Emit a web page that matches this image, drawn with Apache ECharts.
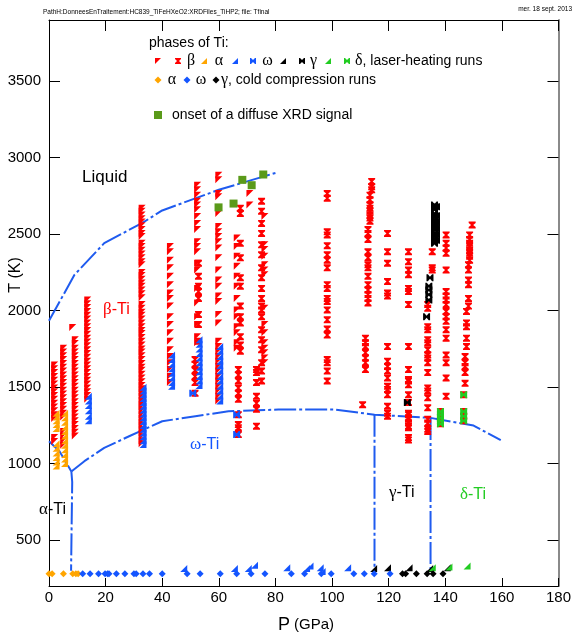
<!DOCTYPE html>
<html>
<head>
<meta charset="utf-8">
<script src="https://cdn.jsdelivr.net/npm/echarts@6/dist/echarts.min.js"></script>
<style>
  html, body { margin: 0; padding: 0; background: #fff; }
  #chart { width: 574px; height: 637px; }
</style>
</head>
<body>
<div id="chart"></div>
<script>
// ---- data (P in GPa, T in K), laser-heating columns as [P, [T...]] ----
var betaFlagCols = [
  [2.0, [1645,1620,1595,1570,1545,1520,1495,1470,1445,1420,1395,1370,1345,1320,1295,1170,1145]],
  [5.2, [1755,1730,1705,1680,1655,1630,1605,1580,1555,1530,1505,1480,1455,1430,1405,1380,1355,1330,1305,1210,1180,1150,1120]],
  [8.4, [1890]],
  [9.3, [1810,1785,1755,1730,1705,1680,1655,1630,1605,1580,1555,1530,1505,1480,1455,1430,1405,1380,1355,1330,1305,1280,1255,1230,1205,1180]],
  [13.7, [2070,2045,2020,1995,1970,1945,1920,1895,1870,1845,1820,1795,1770,1745,1720,1695,1670,1645,1620,1595,1570,1545,1520,1495,1470,1445,1420]],
  [32.9, [2670,2650,2625,2600,2580,2555,2530,2505,2485,2440,2420,2395,2370,2345,2320,2300,2250,2230,2205,2180,2160,2135,2110,2085,
          2040,2015,1990,1970,1945,1920,1895,1870,1850,1825,1800,1775,1750,1730,1705,1680,1655,1630,1610,1585,1560,1535,1510,
          1490,1465,1440,1415,1390,1370,1345,1320,1295,1270,1250,1225,1200,1175,1150,1130]],
  [42.9, [2420,2385,2330,2280,2225,2170,2115,2080,2030,1960,1910,1855,1800,1745,1700,1660,1615,1570,1530]],
  [52.5, [2820,2790,2755,2715,2690,2660,2615,2570,2530,2450,2420,2385,2310,2265,2145,2050,1960,1910,1830,1790]],
  [60.0, [2885,2855,2765,2745,2635,2550,2515,2485,2450,2410,2345,2265,2200,2160,2095,2060,1975,1920,1800,1765,1735,1700,
          1670,1635,1605,1570,1540,1505,1475,1440,1410]],
  [66.5, [2475,2420,2355,2290,2225,2160,2080,2005,1960,1895,1855,1790,1755]],
  [71.0, [2765,2690]],
  [76.3, [2615,2430,2400,2355,2300,2265,2235,2015,1910,1855,1790,1755,1725,1690,1660]]
];
var betaHourCols = [
  [52.8, [2310,2225,2160,2125,2080,1975,1910,1800]],
  [51.6, [1680,1650,1610,1570,1530,1460]],
  [67.6, [2670,2635,2440,2345,2215,2160,2030,1960,1920,1830,1775,1735]],
  [66.9, [1615,1580,1540,1495,1460,1420,1320,1255,1235,1190]],
  [75.1, [2715,2650,2570,2505,2430,2365,2280,2215,2145,2080,2030,2005,1960,1875,1810,1745,1660,1605,1540]],
  [73.3, [1615,1595,1530,1440,1395,1355,1245]],
  [98.3, [2765,2735,2515,2495,2425,2365,2330,2280,2170,2145,2080,2060,2005,1940,1880,1840,1680,1660,1605,1540]],
  [114.0, [2845,2810,2790]],
  [113.4, [2755,2725,2690,2670,2650,2625,2605,2585]],
  [112.7, [2530,2505,2465,2385,2345,2300,2280,2225,2170,2135,2105,2080,2050]],
  [111.8, [1820,1790,1765,1725,1690,1660,1615]],
  [110.8, [1385]],
  [119.6, [2505,2385,2310,2190,2115,2095,1765,1670,1635,1605,1560,1505,1485,1450,1375,1330,1310]],
  [127.0, [2385,2320,2265,2235,2145,2125,2040,1765,1615,1550,1540,1515,1450,1400,1330,1320,1300,1290,1265,1245,1235,1170,1155]],
  [135.4, [2385,2280,2265]],
  [133.8, [2040,2015,1895,1875,1810,1790,1745,1710,1690,1660,1595,1495,1475,1430,1365,1290,1265,1225,1210]],
  [140.3, [2495,2440,2410,2375,2265,2125,2095,2070,2040,1995,1960,1930,1875,1820,1710,1660,1560,1440]],
  [138.3, [1340,1320,1300,1280,1260]],
  [149.5, [2560]],
  [148.6, [2495,2465,2440,2420,2395,2375,2355,2330]],
  [148.2, [2300,2265,2200,2170,2080,2030]],
  [147.5, [1995,1920,1895,1820,1765]],
  [147.0, [1700,1660,1635,1595,1525]],
  [146.5, [1450,1340,1310,1280]]
];
var alphaTriCols = [
  [2.5, [1330,1305,1280,1255,1230,1130,1100,1070,1040,1010,985]],
  [5.5, [1330,1300,1270,1240,1210,1180,1150,1120,1090,1060,1030,1000]]
];
var omegaTriCols = [
  [13.9, [1440,1410,1380,1345,1310,1280]],
  [33.2, [1500,1475,1450,1425,1400,1375,1350,1325,1300,1275,1250,1225,1200,1175,1150,1125]],
  [43.3, [1710,1680,1650,1620,1590,1560,1530,1505]],
  [53.0, [1810,1780,1750,1720,1690,1660,1630,1600,1570,1540,1510]],
  [60.3, [1765,1735,1700,1670,1640,1605,1570,1540,1505,1475,1440,1410]]
];
var omegaTriLow = [[47.6,315],[65.5,315],[70.4,315],[72.6,335],[84,320],[91,315],[92.2,330],[95.8,320],[96.5,295],[105.5,320]];
var omegaBow = [[50.8,1460],[66.3,1320],[66.3,1190]];
var gammaBowCols = [
  [136.2, [2690,2660,2635,2615,2595,2570,2550,2530,2505,2485,2465,2440]],
  [136.9, [2680,2620,2580,2540,2500,2460]],
  [134.6, [2215]],
  [134.2, [2160,2135,2105,2070]],
  [133.4, [1960]],
  [126.6, [1400]]
];
var gammaTriLow = [[114.7,315],[119.6,320],[127.2,320],[134.5,315],[140.7,320]];
var deltaTriLow = [[135.4,320],[141.3,325],[147.7,330]];
var deltaBowCols = [
  [138.3, [1340,1320,1300,1280,1260]],
  [146.5, [1450,1340,1310,1280]]
];
var coldT = 280;
var alphaColdP = [0, 1.1, 5.1, 8.4, 9.5, 10.3];
var omegaColdP = [11.9,14.5,17.5,19.8,20.7,21.2,23.8,26.8,30,30.8,33.2,35.5,40,48.8,53.4,60.5,66.3,71.4,76.3,
                  85.6,90.3,96.2,99.7,107.7,111.4,114.9,120.5];
var gammaColdP = [124.9,126,129.8,133.6,135.7,139.2];
var diffuse = [[59.9,2675],[65.2,2700],[68.3,2855],[71.6,2820],[75.7,2890]];

// phase boundaries
var meltLine = [[0,1934],[9,2234],[19.5,2441],[33,2574],[40,2655],[60,2790],[80,2900]];
var alphaBetaLine = [[0,1146],[3.7,1081],[7.9,949]];
var alphaOmegaLine = [[7.9,949],[8.2,880],[8.0,600],[7.8,300]];
var omegaBetaLine = [[7.9,949],[12.5,1016],[19.5,1103],[28.3,1179],[40,1277],[51.7,1310],[63.4,1342],[81,1353],
                     [100.9,1353],[115,1320],[134.8,1299],[150,1249],[159.6,1153]];
var omegaGammaLine = [[115,1320],[115,300]];
var gammaDeltaLine = [[134.8,1299],[134.8,300]];

var yTicks = [500,1000,1500,2000,2500,3000,3500];

// ---- helpers ----
function expand(cols) {
  var out = [];
  cols.forEach(function (c) { c[1].forEach(function (t) { out.push([c[0], t]); }); });
  return out;
}
function atT(ps, t) { return ps.map(function (p) { return [p, t]; }); }

var RED = '#ff0000', BLUE = '#1455ff', ORANGE = '#ffa500', BLACK = '#000000', GREEN = '#22cc22', OLIVE = '#5a9a1a';
var LINEBLUE = '#1f5bef';
var SYM = {
  flag: 'path://M0,0L10,0L0,10Z',
  corner: 'path://M10,0L10,10L0,10Z',
  hour: 'path://M0,0L10,0L10,2L6.5,5L10,8L10,10L0,10L0,8L3.5,5L0,2Z',
  bow: 'path://M0,0L2,0L5,3.5L8,0L10,0L10,10L8,10L5,6.5L2,10L0,10Z'
};
var SANS = 'Liberation Sans, Arial, sans-serif';
var SERIF = 'Liberation Serif, Times New Roman, serif';

function bound(data) {
  return { type: 'line', data: data, showSymbol: false, symbol: 'none', z: 1, silent: true,
    lineStyle: { color: LINEBLUE, width: 2, type: [22, 3, 3, 3] } };
}
function pts(data, sym, size, color) {
  return { type: 'scatter', data: data, symbol: sym, symbolSize: size, z: 3, silent: true,
    itemStyle: { color: color, opacity: 1 } };
}

// legend swatches
function poly(points, color) { return { type: 'polygon', shape: { points: points }, style: { fill: color } }; }
function flagAt(x, y, c) { return poly([[x-3,y-3],[x+3,y-3],[x-3,y+3]], c); }
function cornerAt(x, y, c) { return poly([[x+3,y-3],[x+3,y+3],[x-3,y+3]], c); }
function hourAt(x, y, c) { return poly([[x-3,y-3],[x+3,y-3],[x+3,y-2],[x+1,y],[x+3,y+2],[x+3,y+3],[x-3,y+3],[x-3,y+2],[x-1,y],[x-3,y-2]], c); }
function bowAt(x, y, c) { return poly([[x-3,y-3],[x-2,y-3],[x,y-1],[x+2,y-3],[x+3,y-3],[x+3,y+3],[x+2,y+3],[x,y+1],[x-2,y+3],[x-3,y+3]], c); }
function diaAt(x, y, c) { return poly([[x,y-3.5],[x+3.5,y],[x,y+3.5],[x-3.5,y]], c); }
function txt(x, y, text, font, fill, align) {
  return { type: 'text', x: x, y: y, style: { text: text, font: font, fill: fill || '#000',
    textAlign: align || 'left', textVerticalAlign: 'middle' } };
}
function rtxt(x, y, text, rich, fill, align) {
  return { type: 'text', x: x, y: y, style: { text: text, rich: rich, fill: fill || '#000',
    textAlign: align || 'left', textVerticalAlign: 'middle' } };
}
function greekRich(c) {
  return { g: { font: '17px ' + SERIF, fill: c }, s: { font: '16px ' + SANS, fill: c } };
}

var r1 = 61, r2 = 80;
var graphics = [].concat(
  txt(43, 12, 'PathH:DonneesEnTraitement:HC839_TiFeHXeO2:XRDFiles_TiHP2; file: Tfinal', '6.5px ' + SANS),
  txt(572, 9, 'mer. 18 sept. 2013', '6.5px ' + SANS, '#000', 'right'),
  txt(149, 43, 'phases of Ti:', '14px ' + SANS),
  flagAt(158, r1, RED), hourAt(178, r1, RED), txt(191, r1, 'β', '16px ' + SERIF, '#000', 'center'),
  cornerAt(204, r1, ORANGE), txt(219, r1, 'α', '16px ' + SERIF, '#000', 'center'),
  cornerAt(235, r1, BLUE), bowAt(253, r1, BLUE), txt(267.5, r1, 'ω', '16px ' + SERIF, '#000', 'center'),
  cornerAt(283, r1, BLACK), bowAt(302, r1, BLACK), txt(313.5, r1, 'γ', '16px ' + SERIF, '#000', 'center'),
  cornerAt(328, r1, GREEN), bowAt(347, r1, GREEN),
  rtxt(355, r1, '{g|δ}{s|, laser-heating runs}', { g: { font: '16px ' + SERIF }, s: { font: '14px ' + SANS } }),
  diaAt(158, r2, ORANGE), txt(172, r2, 'α', '16px ' + SERIF, '#000', 'center'),
  diaAt(187, r2, BLUE), txt(201, r2, 'ω', '16px ' + SERIF, '#000', 'center'),
  diaAt(216, r2, BLACK),
  rtxt(221, r2, '{g|γ}{s|, cold compression runs}', { g: { font: '16px ' + SERIF }, s: { font: '14px ' + SANS } }),
  { type: 'rect', shape: { x: 154, y: 111, width: 8, height: 8 }, style: { fill: OLIVE } },
  txt(172, 115, 'onset of a diffuse XRD signal', '14px ' + SANS),
  txt(82, 177, 'Liquid', '17px ' + SANS),
  rtxt(103, 310, '{g|β}{s|-Ti}', greekRich(RED)),
  rtxt(190, 445, '{g|ω}{s|-Ti}', greekRich(BLUE)),
  rtxt(39, 510, '{g|α}{s|-Ti}', greekRich('#000')),
  rtxt(389, 493, '{g|γ}{s|-Ti}', greekRich('#000')),
  rtxt(460, 495, '{g|δ}{s|-Ti}', greekRich(GREEN)),
  rtxt(306, 625, '{a|P}{b| (GPa)}', { a: { font: '18px ' + SANS }, b: { font: '15px ' + SANS } }, '#000', 'center'),
  { type: 'text', x: 16, y: 275, rotation: Math.PI / 2,
    style: { text: 'T (K)', font: '16px ' + SANS, fill: '#000', textAlign: 'center', textVerticalAlign: 'middle' } }
);

function plain(v) { return String(v); }

var chart = echarts.init(document.getElementById('chart'), null, { renderer: 'canvas' });
chart.setOption({
  animation: false,
  backgroundColor: '#fff',
  grid: { left: 49, right: 12, top: 20, bottom: 51, containLabel: false },
  xAxis: [
    { type: 'value', min: 0, max: 180, interval: 20, position: 'bottom',
      axisLine: { onZero: false, lineStyle: { color: '#000', width: 1 } },
      axisTick: { inside: true, length: 8, lineStyle: { color: '#000' } },
      axisLabel: { color: '#000', fontSize: 15, fontFamily: SANS, margin: 4, formatter: plain },
      splitLine: { show: false } },
    { type: 'value', min: 0, max: 180, interval: 20, position: 'top',
      axisLine: { onZero: false, lineStyle: { color: '#000', width: 1 } },
      axisTick: { inside: true, length: 11, lineStyle: { color: '#000' } },
      axisLabel: { show: false }, splitLine: { show: false } }
  ],
  yAxis: [
    { type: 'value', min: 200, max: 3900, position: 'left',
      axisLine: { show: true, onZero: false, lineStyle: { color: '#000', width: 1 } },
      axisTick: { show: true, inside: true, length: 11, lineStyle: { color: '#000' }, customValues: yTicks },
      axisLabel: { color: '#000', fontSize: 15, fontFamily: SANS, margin: 8, customValues: yTicks, formatter: plain },
      splitLine: { show: false } },
    { type: 'value', min: 200, max: 3900, position: 'right',
      axisLine: { show: true, onZero: false, lineStyle: { color: '#8a8a8a', width: 2 } },
      axisTick: { show: true, inside: true, length: 11, lineStyle: { color: '#000' }, customValues: yTicks },
      axisLabel: { show: false }, splitLine: { show: false } }
  ],
  series: [
    bound(meltLine), bound(alphaBetaLine), bound(alphaOmegaLine), bound(omegaBetaLine),
    bound(omegaGammaLine), bound(gammaDeltaLine),
    pts(expand(betaFlagCols), SYM.flag, 7, RED),
    pts(expand(betaHourCols), SYM.hour, 7, RED),
    pts(expand(alphaTriCols), SYM.corner, 7, ORANGE),
    pts(expand(omegaTriCols).concat(omegaTriLow), SYM.corner, 7, BLUE),
    pts(omegaBow, SYM.bow, 7, BLUE),
    pts(gammaTriLow, SYM.corner, 7, BLACK),
    pts(expand(gammaBowCols), SYM.bow, 7, BLACK),
    pts(deltaTriLow, SYM.corner, 7, GREEN),
    pts(expand(deltaBowCols), SYM.bow, 7, GREEN),
    pts(atT(alphaColdP, coldT), 'diamond', 7, ORANGE),
    pts(atT(omegaColdP, coldT), 'diamond', 7, BLUE),
    pts(atT(gammaColdP, coldT), 'diamond', 7, BLACK),
    pts(diffuse, 'rect', 8, OLIVE)
  ],
  graphic: graphics
});
</script>
</body>
</html>
